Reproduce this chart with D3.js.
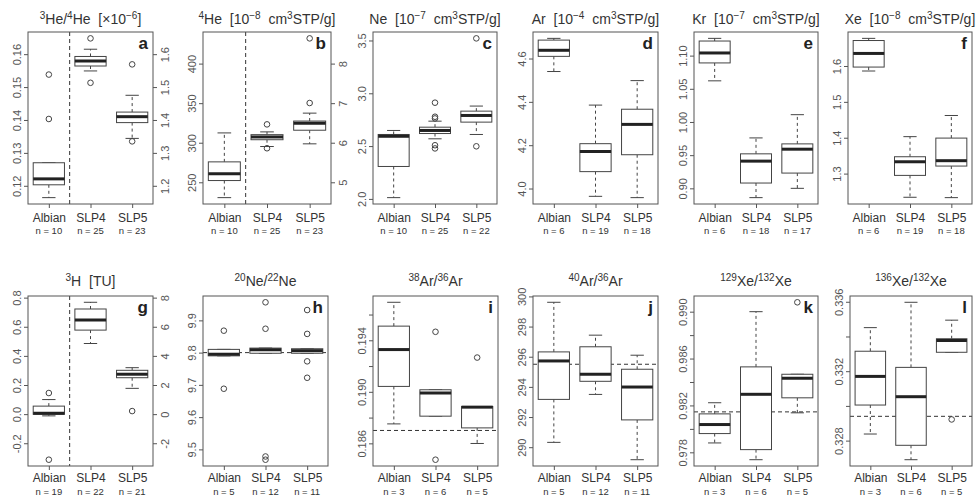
<!DOCTYPE html>
<html><head><meta charset="utf-8">
<script src="https://cdn.jsdelivr.net/npm/d3@7"></script>
<style>
body{margin:0;background:#fff;}
svg{font-family:"Liberation Sans",Arial,Helvetica,sans-serif;}
text{white-space:pre;}
</style></head><body><svg id="chart" width="977" height="502"></svg>
<script>
const categories = ["Albian","SLP4","SLP5"];
// box stats: [lower whisker, Q1, median, Q3, upper whisker]
const he34Boxes = [[0.1164,0.1203,0.1221,0.1270,0.1270],[0.1549,0.1564,0.1579,0.1593,0.1615],[0.1344,0.1392,0.1410,0.1424,0.1475]];
const he34Out = [[0.1538,0.1403],[0.1648,0.1513],[0.1569,0.1335]];
const he34N = [10,25,23];
const he34Ticks = [0.12,0.13,0.14,0.15,0.16];
const he34Right = [1.2,1.3,1.4,1.5,1.6];

const he4Boxes = [[230.6,252.2,260.8,275.8,312.4],[295.2,303.8,307.3,310.2,313.7],[298.6,315.8,324.5,327.4,337.4]];
const he4Out = [[],[323.2,293.0],[350.2,431.9]];
const he4N = [10,25,23];
const he4Ticks = [250,300,350,400];
const he4Right = [5,6,7,8];

const neBoxes = [[2.012,2.307,2.593,2.610,2.648],[2.569,2.619,2.648,2.679,2.736],[2.610,2.727,2.790,2.831,2.879]];
const neOut = [[],[2.911,2.778,2.762,2.508,2.478],[3.52,2.498]];
const neN = [10,25,22];
const neTicks = [2.0,2.5,3.0,3.5];

const arBoxes = [[4.540,4.610,4.638,4.685,4.693],[3.964,4.078,4.171,4.207,4.385],[3.958,4.156,4.296,4.366,4.498]];
const arOut = [[],[],[]];
const arN = [6,19,18];
const arTicks = [4.0,4.2,4.4,4.6];

const krBoxes = [[1.062,1.089,1.104,1.122,1.126],[0.886,0.908,0.941,0.952,0.976],[0.900,0.923,0.959,0.967,1.011]];
const krOut = [[],[],[]];
const krN = [6,18,17];
const krTicks = [0.90,0.95,1.00,1.05,1.10];

const xeBoxes = [[1.586,1.597,1.635,1.671,1.677],[1.234,1.295,1.333,1.347,1.403],[1.233,1.321,1.336,1.399,1.462]];
const xeOut = [[],[],[]];
const xeN = [6,19,18];
const xeTicks = [1.3,1.4,1.5,1.6];

const h3Boxes = [[-0.012,-0.001,0.006,0.055,0.100],[0.485,0.577,0.646,0.722,0.768],[0.177,0.250,0.274,0.301,0.319]];
const h3Out = [[0.145,-0.313],[],[0.021]];
const h3N = [19,22,21];
const h3Ticks = [-0.2,0.0,0.2,0.4,0.6,0.8];
const h3Right = [-2,0,2,4,6,8];

const ne2022Boxes = [[9.790,9.790,9.795,9.810,9.810],[9.798,9.798,9.809,9.814,9.814],[9.798,9.798,9.806,9.812,9.812]];
const ne2022Out = [[9.868,9.688],[9.956,9.874,9.478,9.468],[9.932,9.858,9.773,9.722]];
const ne2022N = [5,12,11];
const ne2022Ticks = [9.5,9.6,9.7,9.8,9.9];
const ne2022Ref = 9.80;

const ar3836Boxes = [[0.18751,0.19042,0.19328,0.19510,0.19695],[0.18811,0.18811,0.18990,0.19016,0.19016],[0.18599,0.18720,0.18881,0.18886,0.18886]];
const ar3836Out = [[],[0.19466,0.18473],[0.19266]];
const ar3836N = [3,6,5];
const ar3836Ticks = [0.186,0.188,0.190,0.192,0.194,0.196];
const ar3836Labels = [0.186,0.190,0.194];
const ar3836Ref = 0.187;

const ar4036Boxes = [[290.32,293.17,295.72,296.32,299.61],[293.50,294.37,294.83,296.66,297.43],[289.17,291.81,293.99,295.17,296.10]];
const ar4036Out = [[],[],[]];
const ar4036N = [5,12,11];
const ar4036Ticks = [290,292,294,296,298,300];
const ar4036Ref = 295.5;

const xe129Boxes = [[0.97880,0.97960,0.98037,0.98128,0.98223],[0.97737,0.97823,0.98295,0.98529,0.99000],[0.98137,0.98265,0.98432,0.98466,0.98466]];
const xe129Out = [[],[],[0.9908]];
const xe129N = [3,6,5];
const xe129Ticks = [0.978,0.980,0.982,0.984,0.986,0.988,0.990];
const xe129Labels = [0.978,0.982,0.986,0.990];
const xe129Ref = 0.98145;

const xe136Boxes = [[0.32838,0.33005,0.33170,0.33315,0.33451],[0.32690,0.32773,0.33053,0.33222,0.33597],[0.33309,0.33309,0.33377,0.33387,0.33494]];
const xe136Out = [[],[],[0.32922]];
const xe136N = [3,6,5];
const xe136Ticks = [0.328,0.330,0.332,0.334,0.336];
const xe136Labels = [0.328,0.332,0.336];
const xe136Ref = 0.3294;

const loc = d3.formatLocale({decimal:".",thousands:",",grouping:[3],currency:["",""],minus:"-"});

const panels = [
 {boxes:he34Boxes,out:he34Out,n:he34N,ticks:he34Ticks,fmt:".2f",letter:"a",vline:true,right:{ticks:he34Right,f:10,fmt:".1f"},
  title:[["3",1],["He/",0],["4",1],["He  [\u00d710",0],["\u22126",1],["]",0]]},
 {boxes:he4Boxes,out:he4Out,n:he4N,ticks:he4Ticks,fmt:"d",letter:"b",vline:true,right:{ticks:he4Right,f:1/50,fmt:"d"},
  title:[["4",1],["He  [10",0],["\u22128",1],["  cm",0],["3",1],["STP/g]",0]]},
 {boxes:neBoxes,out:neOut,n:neN,ticks:neTicks,fmt:".1f",letter:"c",
  title:[["Ne  [10",0],["\u22127",1],["  cm",0],["3",1],["STP/g]",0]]},
 {boxes:arBoxes,out:arOut,n:arN,ticks:arTicks,fmt:".1f",letter:"d",
  title:[["Ar  [10",0],["\u22124",1],["  cm",0],["3",1],["STP/g]",0]]},
 {boxes:krBoxes,out:krOut,n:krN,ticks:krTicks,fmt:".2f",letter:"e",
  title:[["Kr  [10",0],["\u22127",1],["  cm",0],["3",1],["STP/g]",0]]},
 {boxes:xeBoxes,out:xeOut,n:xeN,ticks:xeTicks,fmt:".1f",letter:"f",
  title:[["Xe  [10",0],["\u22128",1],["  cm",0],["3",1],["STP/g]",0]]},
 {boxes:h3Boxes,out:h3Out,n:h3N,ticks:h3Ticks,fmt:".1f",letter:"g",vline:true,right:{ticks:h3Right,f:10,fmt:"d"},
  title:[["3",1],["H  [TU]",0]]},
 {boxes:ne2022Boxes,out:ne2022Out,n:ne2022N,ticks:ne2022Ticks,fmt:".1f",letter:"h",ref:ne2022Ref,
  title:[["20",1],["Ne/",0],["22",1],["Ne",0]]},
 {boxes:ar3836Boxes,out:ar3836Out,n:ar3836N,ticks:ar3836Ticks,labels:ar3836Labels,fmt:".3f",letter:"i",ref:ar3836Ref,
  title:[["38",1],["Ar/",0],["36",1],["Ar",0]]},
 {boxes:ar4036Boxes,out:ar4036Out,n:ar4036N,ticks:ar4036Ticks,fmt:"d",letter:"j",ref:ar4036Ref,
  title:[["40",1],["Ar/",0],["36",1],["Ar",0]]},
 {boxes:xe129Boxes,out:xe129Out,n:xe129N,ticks:xe129Ticks,labels:xe129Labels,fmt:".3f",letter:"k",ref:xe129Ref,
  title:[["129",1],["Xe/",0],["132",1],["Xe",0]]},
 {boxes:xe136Boxes,out:xe136Out,n:xe136N,ticks:xe136Ticks,labels:xe136Labels,fmt:".3f",letter:"l",ref:xe136Ref,
  title:[["136",1],["Xe/",0],["132",1],["Xe",0]]}
];

// layout
const rows = [{top:32,bottom:204,titleY:24,catY:18,nY:30},{top:296,bottom:466,titleY:286,catY:16,nY:29}];
const lefts = [[28,203,373,533,694,848],[28,203,373,533,694,850]];
const widths = [[125,128,124,125,124,124],[125,125,125,125,124,122]];

const svg = d3.select("#chart");
const boxStroke="#444", textCol="#333", tickCol="#555";

panels.forEach((p,idx)=>{
  const ri = Math.floor(idx/6), r = rows[ri], c = idx%6;
  const left = lefts[ri][c], width = widths[ri][c];
  const top=r.top, bottom=r.bottom, right=left+width;
  const g = svg.append("g");
  const x = d3.scaleLinear().domain([0.5,3.5]).range([left,right]);
  const vals = p.boxes.flat().concat(p.out.flat());
  const [mn,mx] = d3.extent(vals), pad=(mx-mn)*0.04;
  const y = d3.scaleLinear().domain([mn-pad,mx+pad]).range([bottom,top]);

  if(p.ref!=null) g.append("line").attr("x1",left).attr("x2",right).attr("y1",y(p.ref)).attr("y2",y(p.ref))
     .attr("stroke","#333").attr("stroke-dasharray","4,3");
  if(p.vline) g.append("line").attr("x1",x(1.5)).attr("x2",x(1.5)).attr("y1",top).attr("y2",bottom)
     .attr("stroke","#333").attr("stroke-dasharray","4,3");

  const bw=0.375, cw=0.16;
  p.boxes.forEach((b,i)=>{
    const cx=i+1; const [lw,q1,md,q3,uw]=b;
    const bg=g.append("g");
    bg.append("line").attr("x1",x(cx)).attr("x2",x(cx)).attr("y1",y(q3)).attr("y2",y(uw)).attr("stroke",boxStroke).attr("stroke-dasharray","3,3");
    bg.append("line").attr("x1",x(cx)).attr("x2",x(cx)).attr("y1",y(q1)).attr("y2",y(lw)).attr("stroke",boxStroke).attr("stroke-dasharray","3,3");
    [lw,uw].forEach(v=>bg.append("line").attr("x1",x(cx-cw)).attr("x2",x(cx+cw)).attr("y1",y(v)).attr("y2",y(v)).attr("stroke",boxStroke));
    bg.append("rect").attr("x",x(cx-bw)).attr("width",x(cx+bw)-x(cx-bw)).attr("y",y(q3)).attr("height",Math.max(0.5,y(q1)-y(q3)))
      .attr("fill","#fff").attr("stroke",boxStroke);
    bg.append("line").attr("x1",x(cx-bw)).attr("x2",x(cx+bw)).attr("y1",y(md)).attr("y2",y(md)).attr("stroke","#222").attr("stroke-width",3);
    p.out[i].forEach(v=>bg.append("circle").attr("cx",x(cx)).attr("cy",y(v)).attr("r",2.8).attr("fill","none").attr("stroke",boxStroke));
  });

  g.append("rect").attr("x",left).attr("y",top).attr("width",width).attr("height",bottom-top)
    .attr("fill","none").attr("stroke","#555");

  const lab = p.labels || p.ticks;
  const f = loc.format(p.fmt);
  const ya = d3.axisLeft(y).tickValues(p.ticks).tickSize(4)
     .tickFormat(v=>lab.some(l=>Math.abs(l-v)<1e-9)?f(v):"");
  const ga = g.append("g").attr("transform",`translate(${left},0)`).call(ya);
  ga.select(".domain").remove();
  ga.selectAll("line").attr("stroke","#555");
  ga.selectAll("text").attr("transform","rotate(-90)").attr("x",0).attr("y",-7).attr("dy",null)
    .attr("text-anchor","middle").attr("fill",tickCol).style("font-size","11px").style("font-family","inherit");

  if(p.right){
    const yr = d3.scaleLinear().domain(y.domain().map(v=>v*p.right.f)).range(y.range());
    const rf = loc.format(p.right.fmt);
    const gr = g.append("g").attr("transform",`translate(${right},0)`)
      .call(d3.axisRight(yr).tickValues(p.right.ticks).tickSize(4).tickFormat(rf));
    gr.select(".domain").remove();
    gr.selectAll("line").attr("stroke","#555");
    gr.selectAll("text").attr("transform","rotate(-90)").attr("x",0).attr("y",16).attr("dy",null)
      .attr("text-anchor","middle").attr("fill",tickCol).style("font-size","11px").style("font-family","inherit");
  }

  const xa = d3.axisBottom(x).tickValues([1,2,3]).tickSize(4).tickFormat(v=>categories[v-1]);
  const gx = g.append("g").attr("transform",`translate(0,${bottom})`).call(xa);
  gx.select(".domain").remove();
  gx.selectAll("line").attr("stroke","#555");
  gx.selectAll("text").attr("y",r.catY).attr("dy",null).attr("fill",textCol).style("font-size","12px").style("font-family","inherit");

  p.n.forEach((nv,i)=>g.append("text").attr("x",x(i+1)).attr("y",bottom+r.nY).attr("text-anchor","middle")
     .attr("fill",textCol).style("font-size","9.5px").text("n = "+nv));

  // title with superscripts (absolute pixel shifts)
  const t = g.append("text").attr("x",(left+right)/2).attr("y",r.titleY).attr("text-anchor","middle")
     .attr("fill",textCol).style("font-size","14px");
  let up=false;
  p.title.forEach(([s,sup])=>{
    const ts=t.append("tspan").text(s);
    if(sup){ ts.attr("dy",up?0:-5).style("font-size","10px"); up=true; }
    else { ts.attr("dy",up?5:0); up=false; }
  });
  g.append("text").attr("x",right-5).attr("y",top+17).attr("text-anchor","end").attr("fill","#222")
    .style("font-size","17px").style("font-weight","bold").text(p.letter);
});
</script></body></html>
